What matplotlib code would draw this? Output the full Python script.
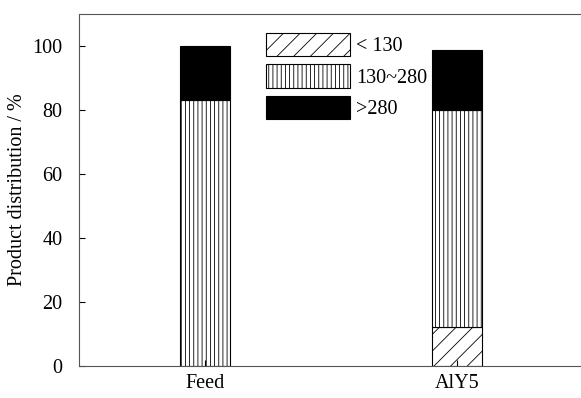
import numpy as np
import matplotlib
matplotlib.use('Agg')
import matplotlib.pyplot as plt

plt.rcParams['font.family'] = ['Liberation Serif', 'DejaVu Serif']
plt.rcParams['hatch.linewidth'] = 0.6

samples = ['Feed', 'AlY5']
low = [0, 12.1]          # < 130
mid = [83.2, 68.0]       # 130~280
high = [16.8, 18.7]      # >280

x = np.arange(len(samples))
w = 0.2

fig = plt.figure(figsize=(5.81, 3.98), dpi=100)
ax = fig.add_axes([0.136, 0.08, 0.88, 0.885])

ax.bar(x, low, w, color='white', edgecolor='black', hatch='//', lw=0.8, label='< 130')
ax.bar(x, mid, w, bottom=low, color='white', edgecolor='black', hatch='||||', lw=0.8, label='130~280')
bot = np.array(low) + np.array(mid)
ax.bar(x, high, w, bottom=bot, color='black', edgecolor='black', lw=0.8, label='>280')

ax.set_xlim(-0.5, 1.53)
ax.set_ylim(0, 110)
ax.set_yticks([0, 20, 40, 60, 80, 100])
ax.set_xticks(x)
ax.set_xticklabels(samples)
ax.tick_params(labelsize=14.5, direction='in', length=4)
ax.tick_params(axis='y', pad=12)
ax.tick_params(axis='x', pad=6)
ax.set_ylabel('Product distribution / %', fontsize=14.5, labelpad=4)
for s in ax.spines.values():
    s.set_linewidth(0.8)
    s.set_color('#555555')

ax.legend(loc='upper left', bbox_to_anchor=(0.33, 0.997), frameon=False, fontsize=14.5,
          handlelength=4.2, handleheight=1.4, labelspacing=0.4, handletextpad=0.3)

fig.savefig('out.png', dpi=100)
